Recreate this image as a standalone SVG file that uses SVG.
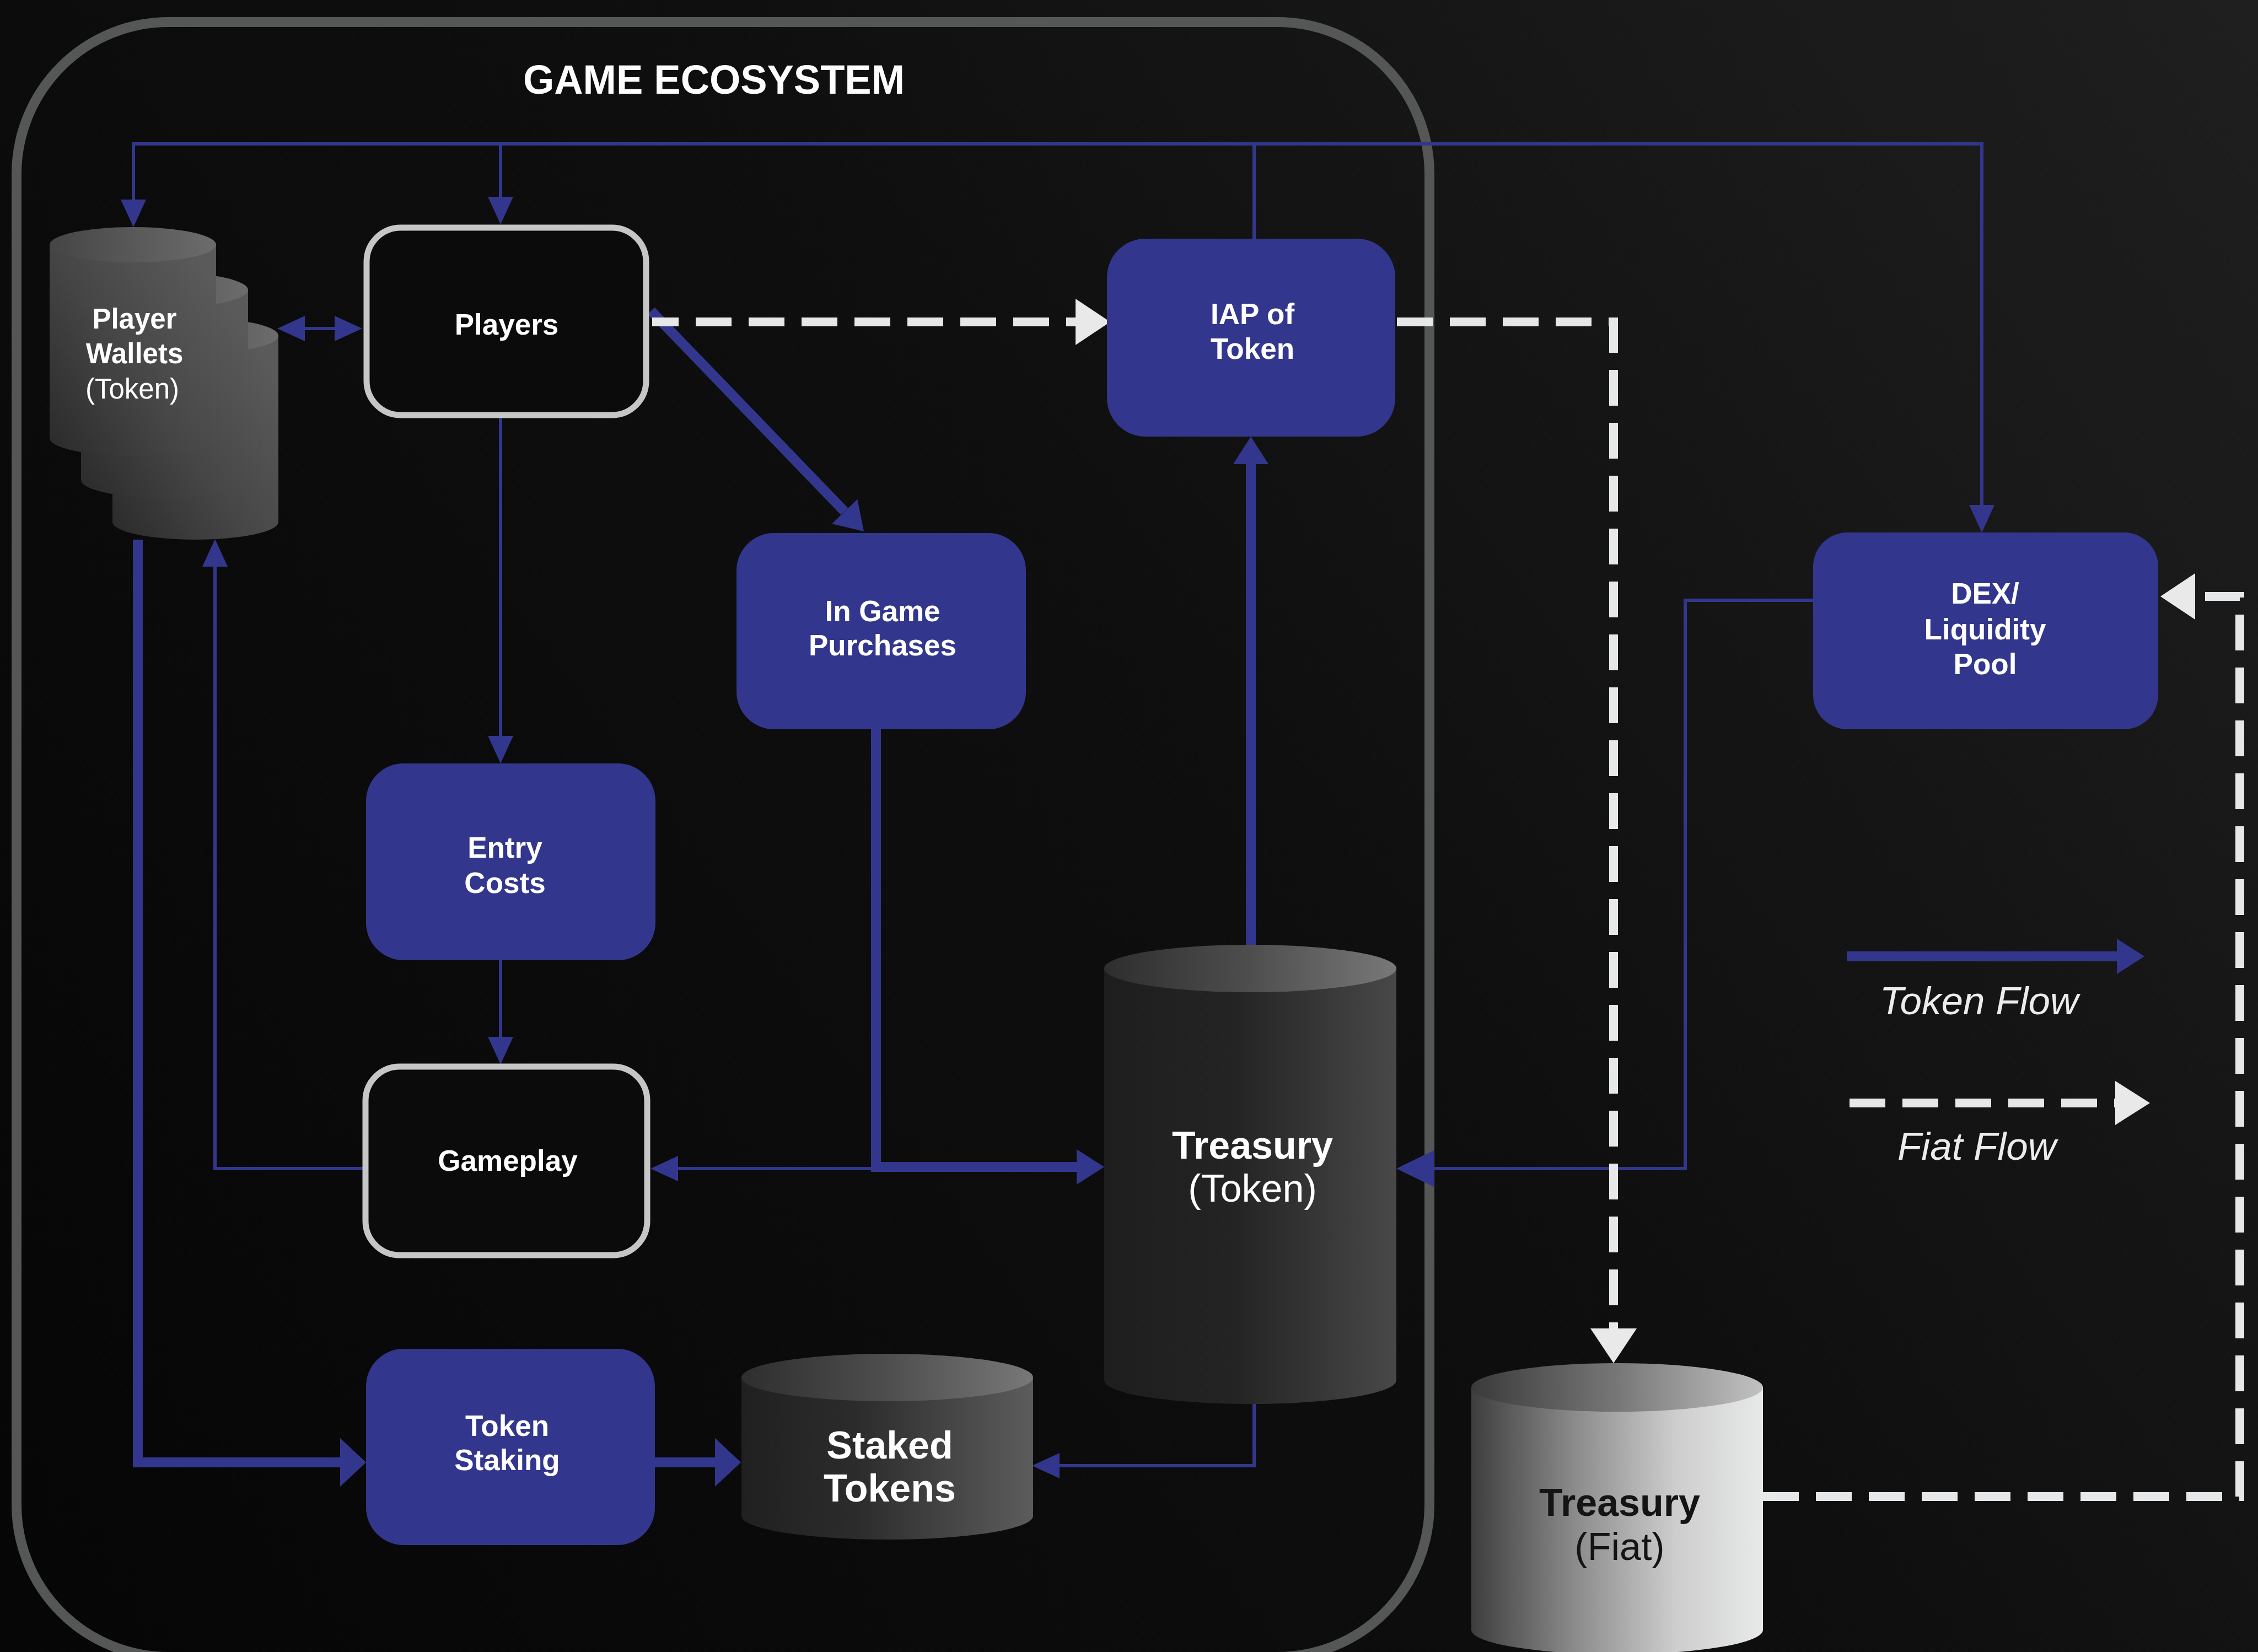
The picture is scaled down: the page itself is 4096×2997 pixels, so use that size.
<svg xmlns="http://www.w3.org/2000/svg" width="4096" height="2997" viewBox="0 0 4096 2997">
  <defs>
    <linearGradient id="bg" x1="4096" y1="0" x2="0" y2="2997" gradientUnits="userSpaceOnUse">
      <stop offset="0" stop-color="#1f1f1f"/>
      <stop offset="0.45" stop-color="#0f0f0f"/>
      <stop offset="1" stop-color="#060606"/>
    </linearGradient>
    <linearGradient id="walletBody" x1="0" y1="1" x2="1" y2="0.2">
      <stop offset="0" stop-color="#2a2a2a"/>
      <stop offset="0.5" stop-color="#464646"/>
      <stop offset="1" stop-color="#5a5a5a"/>
    </linearGradient>
    <linearGradient id="walletTop" x1="0" y1="0" x2="1" y2="0">
      <stop offset="0" stop-color="#454545"/>
      <stop offset="1" stop-color="#6c6c6c"/>
    </linearGradient>
    <linearGradient id="darkBody" x1="0" y1="0" x2="1" y2="0">
      <stop offset="0" stop-color="#1e1e1e"/>
      <stop offset="0.45" stop-color="#242424"/>
      <stop offset="1" stop-color="#484848"/>
    </linearGradient>
    <linearGradient id="darkTop" x1="0" y1="0" x2="1" y2="0">
      <stop offset="0" stop-color="#2e2e2e"/>
      <stop offset="0.5" stop-color="#4e4e4e"/>
      <stop offset="1" stop-color="#787878"/>
    </linearGradient>
    <linearGradient id="stakedBody" x1="0" y1="0" x2="1" y2="0">
      <stop offset="0" stop-color="#202020"/>
      <stop offset="0.4" stop-color="#2c2c2c"/>
      <stop offset="1" stop-color="#5c5c5c"/>
    </linearGradient>
    <linearGradient id="lightBody" x1="0" y1="0" x2="1" y2="0">
      <stop offset="0" stop-color="#3e3e3e"/>
      <stop offset="0.35" stop-color="#8a8a8a"/>
      <stop offset="0.7" stop-color="#cdcdcd"/>
      <stop offset="1" stop-color="#e8e9e9"/>
    </linearGradient>
    <linearGradient id="lightTop" x1="0" y1="0" x2="1" y2="0">
      <stop offset="0" stop-color="#3a3a3a"/>
      <stop offset="0.5" stop-color="#777777"/>
      <stop offset="1" stop-color="#c2c2c2"/>
    </linearGradient>
    <!-- arrowheads, tip at origin, pointing along +x -->
    <polygon id="ahThin" points="0,0 -50,-23 -50,23"/>
    <polygon id="ahMid" points="0,0 -68,-33 -68,33"/>
    <polygon id="ahThick" points="0,0 -50,-32 -50,32"/>
    <polygon id="ahBig" points="0,0 -47,-44 -47,44"/>
    <polygon id="ahFiat" points="0,0 -63,-42 -63,42"/>
    <style>
      .lbl{font-family:"Liberation Sans",Arial,sans-serif;font-weight:700;fill:#ffffff;text-anchor:middle}
      .sm{font-size:53px}
      .big{font-size:70px}
      .reg{font-weight:400}
      .dark{fill:#141414}
      .leg{font-family:"Liberation Sans",Arial,sans-serif;font-style:italic;font-size:71px;fill:#ececec;text-anchor:middle}
      .thin{fill:none;stroke:#32378d;stroke-width:6}
      .thick{fill:none;stroke:#32378d;stroke-width:18}
      .fiat{fill:none;stroke:#e6e7e8;stroke-width:16;stroke-dasharray:65 31}
      .ah{fill:#32378d}
      .ahw{fill:#e9e9ea}
      .box{fill:#32378d}
      .frame{fill:#0b0b0b;stroke:#c6c6c6;stroke-width:11}
    </style>
  </defs>

  <rect width="4096" height="2997" fill="url(#bg)"/>

  <!-- ecosystem boundary -->
  <g id="ecosystem">
    <rect x="30" y="40" width="2563" height="2966" rx="276" ry="276" fill="none" stroke="#555656" stroke-width="18"/>
    <text class="lbl" x="1295" y="170" font-size="74" textLength="692" lengthAdjust="spacingAndGlyphs">GAME ECOSYSTEM</text>
  </g>

  <g id="connectors">
    <!-- token flow, thin -->
    <path class="thin" d="M242,362 V261 H3595 V918"/>
    <path class="thin" d="M908,261 V358"/>
    <path class="thin" d="M2275,261 V433"/>
    <path class="thin" d="M550,596 H610"/>
    <path class="thin" d="M908,759 V1336"/>
    <path class="thin" d="M908,1742 V1882"/>
    <path class="thin" d="M663,2120 H390 V1026"/>
    <path class="thin" d="M1589,2120 H1228"/>
    <path class="thin" d="M3289,1089 H3057 V2120 H2600"/>
    <path class="thin" d="M2275,2547 V2659 H1920"/>

    <!-- token flow, thick -->
    <path class="thick" d="M1181,564 L1532,928"/>
    <path class="thick" d="M1589,1323 V2117 H1955"/>
    <path class="thick" d="M2269,1757 V840"/>
    <path class="thick" d="M250,979 V2653 H620"/>
    <path class="thick" d="M1188,2653 H1300"/>

    <!-- fiat flow, dashed -->
    <path class="fiat" d="M1183,584 H1951" stroke-dashoffset="17"/>
    <path class="fiat" d="M2534,584 H2927 V2411"/>
    <path class="fiat" d="M3198,2715 H4063 V1082 H3982"/>

    <!-- arrowheads -->
    <use href="#ahThin" class="ah" transform="translate(242,412) rotate(90)"/>
    <use href="#ahThin" class="ah" transform="translate(908,407) rotate(90)"/>
    <use href="#ahThin" class="ah" transform="translate(3595,966) rotate(90)"/>
    <use href="#ahThin" class="ah" transform="translate(503,596) rotate(180)"/>
    <use href="#ahThin" class="ah" transform="translate(657,596)"/>
    <use href="#ahThin" class="ah" transform="translate(908,1385) rotate(90)"/>
    <use href="#ahThin" class="ah" transform="translate(908,1931) rotate(90)"/>
    <use href="#ahThin" class="ah" transform="translate(390,978) rotate(270)"/>
    <use href="#ahThin" class="ah" transform="translate(1180,2120) rotate(180)"/>
    <use href="#ahMid" class="ah" transform="translate(2533,2120) rotate(180)"/>
    <use href="#ahThin" class="ah" transform="translate(1872,2659) rotate(180)"/>
    <use href="#ahThick" class="ah" transform="translate(1567,964) rotate(46)"/>
    <use href="#ahThick" class="ah" transform="translate(2003,2117)"/>
    <use href="#ahThick" class="ah" transform="translate(2269,792) rotate(270)"/>
    <use href="#ahBig" class="ah" transform="translate(664,2653)"/>
    <use href="#ahBig" class="ah" transform="translate(1344,2653)"/>
    <use href="#ahFiat" class="ahw" transform="translate(2014,584)"/>
    <use href="#ahFiat" class="ahw" transform="translate(2927,2473) rotate(90)"/>
    <use href="#ahFiat" class="ahw" transform="translate(3919,1082) rotate(180)"/>
  </g>

  <!-- nodes -->
  <g id="player-wallets">
    <path d="M204,609 V947 A150.5,32 0 0 0 505,947 V609 Z" fill="url(#walletBody)"/>
    <ellipse cx="354.5" cy="609" rx="150.5" ry="32" fill="url(#walletTop)"/>
    <path d="M147,526 V871 A151.5,32 0 0 0 450,871 V526 Z" fill="url(#walletBody)"/>
    <ellipse cx="298.5" cy="526" rx="151.5" ry="32" fill="url(#walletTop)"/>
    <path d="M90,444 V795 A151,32 0 0 0 392,795 V444 Z" fill="url(#walletBody)"/>
    <ellipse cx="241" cy="444" rx="151" ry="32" fill="url(#walletTop)"/>
    <text class="lbl" font-size="51" x="244" y="596">Player</text>
    <text class="lbl" font-size="51" x="244" y="659">Wallets</text>
    <text class="lbl reg" font-size="51" x="240" y="723" fill="#e4e4e4">(Token)</text>
  </g>

  <g id="players">
    <rect class="frame" x="665" y="413" width="507" height="340" rx="62"/>
    <text class="lbl sm" x="919" y="607">Players</text>
  </g>

  <g id="iap-of-token">
    <rect class="box" x="2008" y="433" width="523" height="359" rx="70"/>
    <text class="lbl sm" x="2272" y="588">IAP of</text>
    <text class="lbl sm" x="2272" y="651">Token</text>
  </g>

  <g id="in-game-purchases">
    <rect class="box" x="1336" y="967" width="525" height="356" rx="68"/>
    <text class="lbl sm" x="1601" y="1127">In Game</text>
    <text class="lbl sm" x="1601" y="1189">Purchases</text>
  </g>

  <g id="dex-liquidity-pool">
    <rect class="box" x="3289" y="966" width="626" height="357" rx="62"/>
    <text class="lbl sm" x="3601" y="1095">DEX/</text>
    <text class="lbl sm" x="3601" y="1160">Liquidity</text>
    <text class="lbl sm" x="3601" y="1223">Pool</text>
  </g>

  <g id="entry-costs">
    <rect class="box" x="664" y="1385" width="525" height="357" rx="68"/>
    <text class="lbl sm" x="916" y="1556">Entry</text>
    <text class="lbl sm" x="916" y="1620">Costs</text>
  </g>

  <g id="gameplay">
    <rect class="frame" x="663" y="1935" width="511" height="342" rx="62"/>
    <text class="lbl sm" x="921" y="2124">Gameplay</text>
  </g>

  <g id="treasury-token">
    <path d="M2003,1757 V2504 A265,43 0 0 0 2533,2504 V1757 Z" fill="url(#darkBody)"/>
    <ellipse cx="2268" cy="1757" rx="265" ry="43" fill="url(#darkTop)"/>
    <text class="lbl big" x="2272" y="2102">Treasury</text>
    <text class="lbl big reg" x="2272" y="2180">(Token)</text>
  </g>

  <g id="token-staking">
    <rect class="box" x="664" y="2447" width="524" height="356" rx="68"/>
    <text class="lbl sm" x="920" y="2605">Token</text>
    <text class="lbl sm" x="920" y="2667">Staking</text>
  </g>

  <g id="staked-tokens">
    <path d="M1345,2499 V2750 A264.5,43 0 0 0 1874,2750 V2499 Z" fill="url(#stakedBody)"/>
    <ellipse cx="1609.5" cy="2499" rx="264.5" ry="43" fill="url(#darkTop)"/>
    <text class="lbl big" x="1614" y="2646">Staked</text>
    <text class="lbl big" x="1614" y="2724">Tokens</text>
  </g>

  <g id="treasury-fiat">
    <path d="M2669,2517 V2957 A264.5,44 0 0 0 3198,2957 V2517 Z" fill="url(#lightBody)"/>
    <ellipse cx="2933.5" cy="2517" rx="264.5" ry="44" fill="url(#lightTop)"/>
    <text class="lbl big dark" x="2938" y="2750">Treasury</text>
    <text class="lbl big reg dark" x="2938" y="2830">(Fiat)</text>
  </g>

  <g id="legend">
    <path class="thick" d="M3350,1735 H3840" stroke-width="22"/>
    <use href="#ahThick" class="ah" transform="translate(3890,1735)"/>
    <text class="leg" x="3590" y="1840">Token Flow</text>
    <path class="fiat" d="M3355,2001 H3838"/>
    <use href="#ahFiat" class="ahw" transform="translate(3900,2001) scale(1,0.95)"/>
    <text class="leg" x="3586" y="2104">Fiat Flow</text>
  </g>
</svg>
